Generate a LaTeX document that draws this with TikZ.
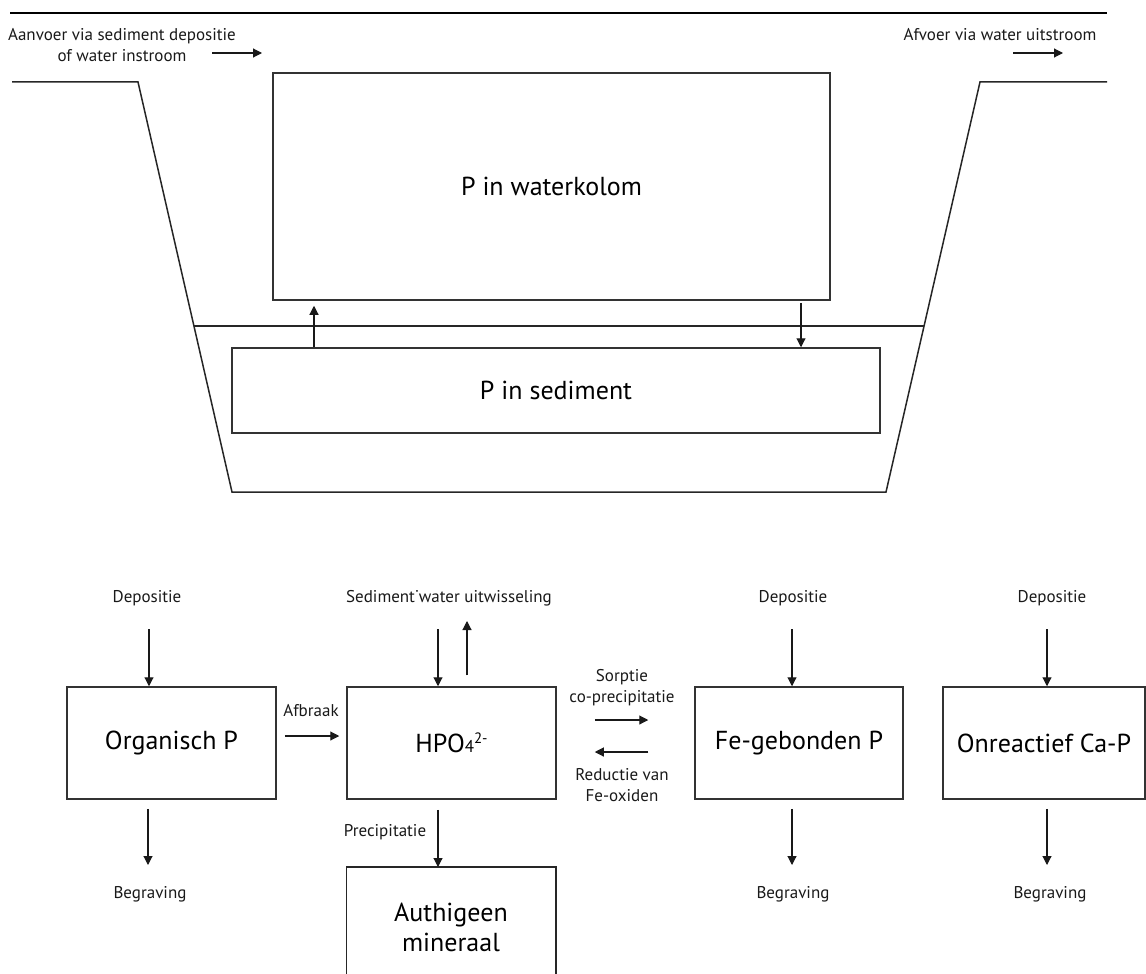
\documentclass[tikz,border=0pt]{standalone}
\usepackage{fontspec}
\setmainfont{PT Sans}
\usetikzlibrary{arrows.meta}
\begin{document}
\begin{tikzpicture}[x=1pt,y=-1pt,
  box/.style={draw=black!80, line width=1.5pt, inner sep=0pt, font=\fontsize{26}{30}\selectfont, align=center},
  lbl/.style={inner sep=0pt, font=\fontsize{17}{21}\selectfont, align=center, text=black!90},
  arr/.style={-{Triangle[length=9pt,width=9pt]}, line width=1.1pt, draw=black!90},
  wall/.style={line width=1.5pt, draw=black!85}]
\useasboundingbox (0,0) rectangle (1146,974);

% top part
\coordinate (t1) at (10,13);
\coordinate (t2) at (1107,13);
\draw[line width=2pt] (t1) -- (t2);

\node[lbl] (aanvoer) at (122,45) {Aanvoer via sediment depositie\\of water instroom};
\node[lbl] (afvoer) at (1000,35) {Afvoer via water uitstroom};
\coordinate (in1) at (212,53);
\coordinate (in2) at (262,53);
\coordinate (out1) at (1013,53);
\coordinate (out2) at (1063,53);
\draw[arr] (in1) -- (in2);
\draw[arr] (out1) -- (out2);

\coordinate (lt) at (12,82);
\coordinate (lc) at (138,82);
\coordinate (lb) at (232,492);
\coordinate (rb) at (886,492);
\coordinate (rc) at (980,82);
\coordinate (rt) at (1107,82);
\draw[wall] (lt) -- (lc) -- (lb) -- (rb) -- (rc) -- (rt);
\coordinate (wl) at (194,326);
\coordinate (wr) at (924,326);
\draw[wall] (wl) -- (wr);

\node[box, minimum width=557pt, minimum height=227pt] (wk) at (551.5,186.5) {P in waterkolom};
\node[box, minimum width=648pt, minimum height=85pt] (sed) at (556,390.5) {P in sediment};

\coordinate (ua) at (314,0);
\coordinate (da) at (801,0);
\draw[arr, shorten >=5pt] (ua |- sed.north) -- (ua |- wk.south);
\draw[arr, shorten <=2pt] (da |- wk.south) -- (da |- sed.north);

% bottom part
\node[box, minimum width=209pt, minimum height=112pt] (org) at (171.5,743) {Organisch P};
\node[box, minimum width=209pt, minimum height=112pt] (hpo) at (451.5,743)
  {HPO{\fontsize{17}{17}\selectfont 4}\raisebox{9pt}{\fontsize{15}{15}\selectfont 2-}};
\node[box, minimum width=208pt, minimum height=112pt] (fe) at (799,743) {Fe-gebonden P};
\node[box, minimum width=202pt, minimum height=112pt] (ca) at (1044,743) {Onreactief Ca-P};
\node[box, draw=none, minimum width=208pt, minimum height=120pt, anchor=north] (au) at (451,867) {Authigeen\\mineraal};
\coordinate (bot) at (0,974);
\draw[wall] (au.north west |- bot) -- (au.north west) -- (au.north east) -- (au.north east |- bot);

% labels
\node[lbl] (dep1) at (147,598) {Depositie};
\node[lbl] (seu) at (449,598) {Sediment˙water uitwisseling};
\node[lbl] (dep3) at (793,598) {Depositie};
\node[lbl] (dep4) at (1052,598) {Depositie};
\node[lbl] (beg1) at (150,894) {Begraving};
\node[lbl] (beg3) at (793,894) {Begraving};
\node[lbl] (beg4) at (1050,894) {Begraving};
\node[lbl] (afb) at (311,711) {Afbraak};
\node[lbl] (prec) at (385,832) {Precipitatie};
\node[lbl] (sorp) at (622,688) {Sorptie\\co-precipitatie};
\node[lbl] (red) at (622,785) {Reductie van\\Fe-oxiden};

% vertical arrows
\coordinate (a1) at (149,629);
\coordinate (a2) at (438,629);
\coordinate (a3) at (467,621);
\coordinate (a4) at (792,629);
\coordinate (a5) at (1047,629);
\draw[arr] (a1) -- (a1 |- org.north);
\draw[arr] (a2) -- (a2 |- hpo.north);
\draw[arr, shorten <=11pt] (a3 |- hpo.north) -- (a3);
\draw[arr] (a4) -- (a4 |- fe.north);
\draw[arr] (a5) -- (a5 |- ca.north);

\coordinate (b1) at (148,865);
\coordinate (b3) at (792,865);
\coordinate (b4) at (1047,865);
\draw[arr, shorten <=9pt] (b1 |- org.south) -- (b1);
\draw[arr, shorten <=9pt] (b3 |- fe.south) -- (b3);
\draw[arr, shorten <=9pt] (b4 |- ca.south) -- (b4);
\draw[arr, shorten <=10pt] (a2 |- hpo.south) -- (a2 |- au.north);

% horizontal arrows
\coordinate (h1) at (0,736);
\coordinate (h2) at (0,720);
\coordinate (h3) at (0,752);
\draw[arr, shorten <=8pt, shorten >=7pt] (org.east |- h1) -- (hpo.west |- h1);
\draw[arr, shorten <=38pt, shorten >=46pt] (hpo.east |- h2) -- (fe.west |- h2);
\draw[arr, shorten <=46pt, shorten >=38pt] (fe.west |- h3) -- (hpo.east |- h3);
\end{tikzpicture}
\end{document}
